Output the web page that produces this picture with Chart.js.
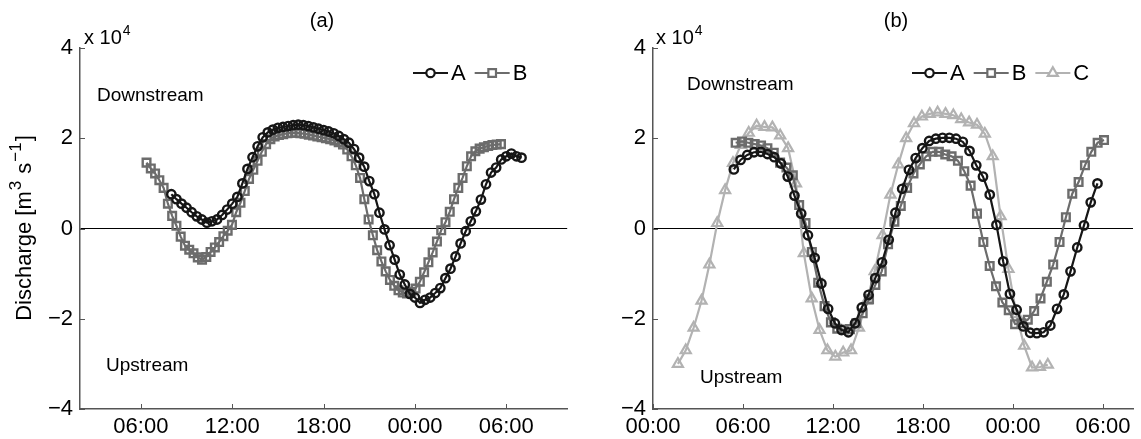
<!DOCTYPE html>
<html>
<head>
<meta charset="utf-8">
<script src="https://cdn.jsdelivr.net/npm/chart.js@4.4.0/dist/chart.umd.min.js"></script>
<style>
  body { margin: 0; background: #fff; width: 1141px; height: 439px; overflow: hidden; position: relative; }
  canvas { position: absolute; top: 0; }
  #chartA { left: 0; }
  #chartB { left: 575px; }
</style>
</head>
<body>
<canvas id="chartA" width="575" height="439"></canvas>
<canvas id="chartB" width="566" height="439"></canvas>
<script>
// values are in units of 1e4 m3/s, time in hours from 00:00 of day 1
const xTicksA = [6, 12, 18, 24, 30];
const xTicksB = [0, 6, 12, 18, 24, 30];
const yTicks = [-4, -2, 0, 2, 4];

// panel (a)
const aA_start = 8.0, aA_step = 1 / 3;
const aA = [0.76, 0.65, 0.55, 0.46, 0.36, 0.27, 0.2, 0.13, 0.16, 0.2, 0.3, 0.42, 0.55, 0.7, 1.0,
  1.32, 1.58, 1.82, 2.02, 2.13, 2.19, 2.23, 2.25, 2.27, 2.29, 2.3, 2.29, 2.27, 2.24, 2.21, 2.18, 2.15, 2.11, 2.05, 1.98,
  1.9, 1.76, 1.57, 1.37, 1.05, 0.76, 0.35, -0.02, -0.37, -0.69, -1.02, -1.24, -1.45, -1.53, -1.65, -1.58, -1.53, -1.43,
  -1.32, -1.1, -0.89, -0.62, -0.33, -0.06, 0.16, 0.38, 0.64, 0.98, 1.24, 1.35, 1.53, 1.6, 1.66, 1.6, 1.57];

const aB_start = 6.37, aB_step = 0.2805;
const aB = [1.46, 1.33, 1.22, 1.07, 0.9, 0.55, 0.28, 0.06, -0.18, -0.38,
  -0.47, -0.55, -0.64, -0.69, -0.63, -0.52, -0.42, -0.3, -0.17, -0.05,
  0.08, 0.36, 0.57, 0.83, 1.1, 1.3, 1.5, 1.7, 1.87, 1.98,
  2.04, 2.07, 2.09, 2.11, 2.12, 2.12, 2.11, 2.1, 2.08, 2.06,
  2.04, 2.02, 2.0, 1.98, 1.95, 1.91, 1.86, 1.75, 1.6, 1.4,
  1.12, 0.65, 0.2, -0.15, -0.48, -0.73, -0.95, -1.14, -1.27, -1.37,
  -1.42, -1.44, -1.4, -1.33, -1.18, -0.97, -0.75, -0.53, -0.29, -0.04,
  0.14, 0.37, 0.65, 0.9, 1.12, 1.38, 1.6, 1.71, 1.77, 1.8,
  1.83, 1.85, 1.86, 1.87];

// panel (b)
const bA_start = 5.39, bA_step = 0.4489;
const bA = [1.31, 1.52, 1.63, 1.69, 1.7, 1.65, 1.58, 1.44, 1.15, 0.73,
  0.33, -0.15, -0.65, -1.22, -1.78, -2.1, -2.25, -2.3, -2.1, -1.75,
  -1.47, -1.1, -0.75, -0.25, 0.35, 0.88, 1.3, 1.56, 1.78, 1.94,
  1.99, 2.01, 2.01, 1.99, 1.92, 1.72, 1.4, 1.15, 0.75, 0.08,
  -0.73, -1.45, -1.8, -2.17, -2.31, -2.32, -2.3, -2.15, -1.78, -1.46,
  -0.95, -0.42, 0.07, 0.58, 1.0];

const bB_start = 5.51, bB_step = 0.4234;
const bB = [1.9, 1.93, 1.9, 1.87, 1.84, 1.78, 1.68, 1.46, 1.35, 1.18,
  0.52, 0.12, -0.52, -1.2, -1.72, -2.08, -2.22, -2.24, -2.23, -2.1,
  -1.88, -1.57, -1.25, -0.95, -0.35, 0.15, 0.5, 0.9, 1.22, 1.42,
  1.6, 1.7, 1.7, 1.64, 1.6, 1.5, 1.27, 0.95, 0.33, -0.3,
  -0.83, -1.28, -1.64, -1.81, -2.12, -2.1, -2.02, -1.83, -1.55, -1.18,
  -0.8, -0.3, 0.25, 0.77, 1.03, 1.4, 1.7, 1.9, 1.96];

const bC_start = 1.66, bC_step = 0.5247;
const bC = [-3.0, -2.7, -2.2, -1.6, -0.8, 0.12, 0.85, 1.45, 1.85, 2.12,
  2.28, 2.25, 2.24, 2.06, 1.78, 1.0, -0.55, -1.55, -2.25, -2.7,
  -2.84, -2.75, -2.7, -2.2, -1.6, -0.95, -0.15, 0.75, 1.42, 2.0,
  2.33, 2.48, 2.54, 2.57, 2.54, 2.51, 2.42, 2.35, 2.3, 2.1,
  1.6, 0.27, -0.9, -1.9, -2.6, -3.08, -3.07, -3.02];

const FONT = "'Liberation Sans', Arial, Helvetica, sans-serif";
const AXIS = "#555";
Chart.defaults.font.family = FONT;
Chart.defaults.color = "#000";

function points(start, step, vals) {
  return vals.map((v, i) => ({ x: start + i * step, y: v }));
}

function hhmm(h) {
  const d = ((h % 24) + 24) % 24;
  return (d < 10 ? "0" : "") + d + ":00";
}

const styles = {
  A: { color: "#161616", pointStyle: "circle", radius: 4.2, border: 2.4 },
  B: { color: "#6c6c6c", pointStyle: "rect", radius: 5.4, border: 2.4 },
  C: { color: "#b2b2b2", pointStyle: "triangle", radius: 5.8, border: 2.2 },
};

function dataset(name, data) {
  const s = styles[name];
  return {
    label: name,
    data: data,
    borderColor: s.color,
    borderWidth: 2.2,
    pointStyle: s.pointStyle,
    pointRadius: s.radius,
    pointBorderWidth: s.border,
    pointBorderColor: s.color,
    pointBackgroundColor: "rgba(0,0,0,0)",
    pointHoverRadius: s.radius,
    tension: 0,
  };
}

// text runs: [text, superscript?]
function drawRuns(ctx, runs, x, y, size, supSize) {
  let cx = x;
  runs.forEach(r => {
    ctx.font = (r[1] ? supSize : size) + "px " + FONT;
    if (r[1]) cx += 1;
    ctx.fillText(r[0], cx, r[1] ? y - size * 0.45 : y);
    cx += ctx.measureText(r[0]).width + (r[1] ? 1 : 0);
  });
  return cx - x;
}

function runsWidth(ctx, runs, size, supSize) {
  let w = 0;
  runs.forEach(r => {
    ctx.font = (r[1] ? supSize : size) + "px " + FONT;
    w += ctx.measureText(r[0]).width + (r[1] ? 2 : 0);
  });
  return w;
}

const decor = {
  id: "decor",
  afterDraw(chart, args, opts) {
    const ctx = chart.ctx;
    const xs = chart.scales.x, ys = chart.scales.y;
    ctx.save();
    // inward tick marks
    ctx.strokeStyle = AXIS;
    ctx.lineWidth = 1;
    xs.ticks.forEach(t => {
      const px = Math.round(xs.getPixelForValue(t.value)) + 0.5;
      ctx.beginPath(); ctx.moveTo(px, ys.bottom); ctx.lineTo(px, ys.bottom - 5); ctx.stroke();
    });
    ys.ticks.forEach(t => {
      const py = Math.round(ys.getPixelForValue(t.value)) + 0.5;
      ctx.beginPath(); ctx.moveTo(xs.left, py); ctx.lineTo(xs.left + 5, py); ctx.stroke();
    });

    ctx.fillStyle = "#000";
    ctx.textBaseline = "middle";
    ctx.textAlign = "center";
    ctx.font = "20px " + FONT;
    ctx.fillText(opts.title, opts.titleX, 21);

    ctx.textAlign = "left";
    ctx.textBaseline = "alphabetic";
    drawRuns(ctx, [["x 10", false], ["4", true]], opts.expX, 44, 20, 14);

    // y axis title, rotated, with raised exponents
    if (opts.yTitle) {
      const runs = [["Discharge [m", false], ["3", true], [" s", false], ["\u22121", true], ["]", false]];
      const w = runsWidth(ctx, runs, 22, 17);
      ctx.save();
      ctx.translate(31, 228);
      ctx.rotate(-Math.PI / 2);
      drawRuns(ctx, runs, -w / 2, 0, 22, 17);
      ctx.restore();
    }

    ctx.textBaseline = "middle";
    ctx.font = "19px " + FONT;
    ctx.fillText("Downstream", opts.down[0], opts.down[1]);
    ctx.fillText("Upstream", opts.up[0], opts.up[1]);

    // legend: line with marker in the middle, then name
    let lx = opts.legendX;
    const ly = opts.legendY;
    chart.data.datasets.forEach(ds => {
      ctx.strokeStyle = ds.borderColor;
      ctx.lineWidth = 2.2;
      ctx.beginPath(); ctx.moveTo(lx, ly); ctx.lineTo(lx + 35, ly); ctx.stroke();
      ctx.fillStyle = "#fff";
      Chart.helpers.drawPoint(ctx, {
        pointStyle: ds.pointStyle, radius: ds.pointRadius, rotation: 0, borderWidth: ds.pointBorderWidth
      }, lx + 17.5, ly);
      ctx.fillStyle = "#000";
      ctx.font = "22px " + FONT;
      ctx.fillText(ds.label, lx + 38, ly + 1);
      lx += 38 + ctx.measureText(ds.label).width + 9;
    });
    ctx.restore();
  }
};

function makePanel(id, datasets, xMin, xMax, xTicks, yWidth, padRight, decorOpts) {
  return new Chart(document.getElementById(id), {
    type: "line",
    data: { datasets: datasets },
    options: {
      responsive: false,
      animation: false,
      layout: { padding: { top: 48, right: padRight, left: 0, bottom: 0 } },
      plugins: {
        legend: { display: false },
        tooltip: { enabled: false },
        decor: decorOpts,
      },
      scales: {
        x: {
          type: "linear",
          min: xMin,
          max: xMax,
          afterBuildTicks: s => { s.ticks = xTicks.map(v => ({ value: v })); },
          afterFit: s => { s.height = 30; },
          ticks: {
            callback: v => hhmm(v),
            font: { size: 22 },
            padding: 5,
            maxRotation: 0,
            autoSkip: false,
          },
          grid: { display: false, drawTicks: false },
          border: { display: true, color: AXIS, width: 1.5 },
        },
        y: {
          min: -4,
          max: 4,
          afterBuildTicks: s => { s.ticks = yTicks.map(v => ({ value: v })); },
          afterFit: s => { s.width = yWidth; },
          ticks: {
            callback: v => (v < 0 ? "\u2212" + Math.abs(v) : String(v)),
            font: { size: 22 },
            padding: 7,
          },
          grid: {
            drawTicks: false,
            color: c => (c.tick && c.tick.value === 0 ? "#000" : "rgba(0,0,0,0)"),
            lineWidth: 1,
          },
          border: { display: true, color: AXIS, width: 1.5 },
        },
      },
    },
    plugins: [decor],
  });
}

makePanel("chartA",
  [dataset("A", points(aA_start, aA_step, aA)), dataset("B", points(aB_start, aB_step, aB))],
  2, 34, xTicksA, 80, 7,
  { title: "(a)", titleX: 322, expX: 84, down: [97, 96], up: [106, 366], legendX: 413, legendY: 73, yTitle: true });

makePanel("chartB",
  [dataset("A", points(bA_start, bA_step, bA)), dataset("B", points(bB_start, bB_step, bB)), dataset("C", points(bC_start, bC_step, bC))],
  0, 32, xTicksB, 78, 2,
  { title: "(b)", titleX: 321, expX: 81, down: [112, 85], up: [125, 378], legendX: 337, legendY: 73, yTitle: false });
</script>
</body>
</html>
